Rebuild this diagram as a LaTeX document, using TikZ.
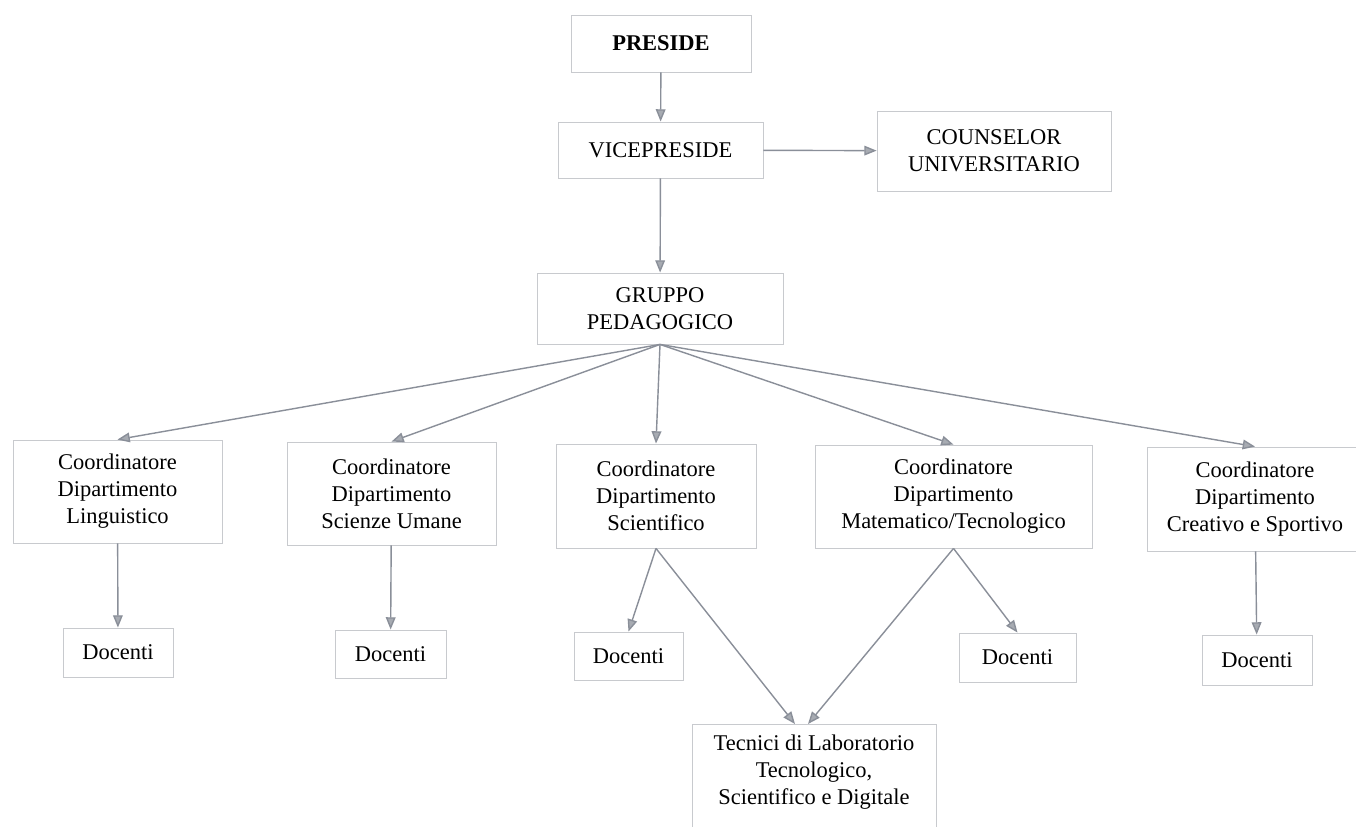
\documentclass[tikz,border=0pt]{standalone}
\usepackage{fontspec}
\setmainfont{Liberation Serif}
\usepackage{tikz}
\usetikzlibrary{arrows.meta,positioning}
\definecolor{boxLine}{HTML}{C8CACE}
\definecolor{arrowGray}{HTML}{8A8F99}

\begin{document}
\begin{tikzpicture}[x=0.02cm,y=-0.02cm,
    box/.style={draw=boxLine,line width=0.5pt,fill=white,align=center,inner sep=0pt,font=\fontsize{12.8}{15.4}\selectfont},
    link/.style={draw=arrowGray,line width=0.8pt,-{Triangle[length=7pt,width=5.5pt,fill=arrowGray!75]}}]
    \fill[white] (0,0) rectangle (1356,827);
    \useasboundingbox (0,0) rectangle (1356,827);

    \node[box,minimum width=3.6cm,minimum height=1.14cm] (preside) at (661,43.5) {\textbf{PRESIDE}};
    \node[box,minimum width=4.1cm,minimum height=1.12cm] (vice) at (660.5,150) {VICEPRESIDE};
    \node[box,minimum width=4.68cm,minimum height=1.6cm] (couns) at (994,151) {COUNSELOR\\UNIVERSITARIO};
    \node[box,minimum width=4.92cm,minimum height=1.42cm] (grp) at (660,308.5) {GRUPPO\\PEDAGOGICO};

    \node[box,minimum width=4.18cm,minimum height=2.06cm] (ling) at (117.5,491.5) {Coordinatore\\Dipartimento\\Linguistico};
    \node[box,minimum width=4.18cm,minimum height=2.06cm] (scie) at (391.5,493.5) {Coordinatore\\Dipartimento\\Scienze Umane};
    \node[box,minimum width=4cm,minimum height=2.08cm] (sci) at (656,496) {Coordinatore\\Dipartimento\\Scientifico};
    \node[box,minimum width=5.54cm,minimum height=2.06cm] (mat) at (953.5,496.5) {Coordinatore\\Dipartimento\\Matematico/Tecnologico};
    \node[box,minimum width=4.32cm,minimum height=2.08cm] (cre) at (1255,499) {Coordinatore\\Dipartimento\\Creativo e Sportivo};

    \node[box,minimum width=2.2cm,minimum height=0.98cm] (doc1) at (118,652.5) {Docenti};
    \node[box,minimum width=2.22cm,minimum height=0.96cm] (doc2) at (390.5,654) {Docenti};
    \node[box,minimum width=2.18cm,minimum height=0.96cm] (doc3) at (628.5,656) {Docenti};
    \node[box,minimum width=2.34cm,minimum height=0.98cm] (doc4) at (1017.5,657.5) {Docenti};
    \node[box,minimum width=2.2cm,minimum height=1cm] (doc5) at (1257,660) {Docenti};

    \node[box,anchor=north,minimum width=4.88cm,inner ysep=0.2cm,text depth=1.6cm] (tec) at (814,724) {Tecnici di Laboratorio\\Tecnologico,\\Scientifico e Digitale};

    \draw[link] (preside) -- (vice);
    \draw[link] (vice) -- (couns);
    \draw[link] (vice) -- (grp);
    \foreach \dept in {ling,scie,sci,mat,cre}
        \draw[link] (grp.south) -- (\dept.north);
    \draw[link] (ling) -- (doc1);
    \draw[link] (scie) -- (doc2);
    \draw[link] (sci.south) -- (doc3.north);
    \draw[link] (sci.south) -- ([xshift=-0.38cm]tec.north);
    \draw[link] (mat.south) -- ([xshift=-0.12cm]tec.north);
    \draw[link] (mat.south) -- (doc4.north);
    \draw[link] (cre) -- (doc5);
  \end{tikzpicture}
\end{document}
